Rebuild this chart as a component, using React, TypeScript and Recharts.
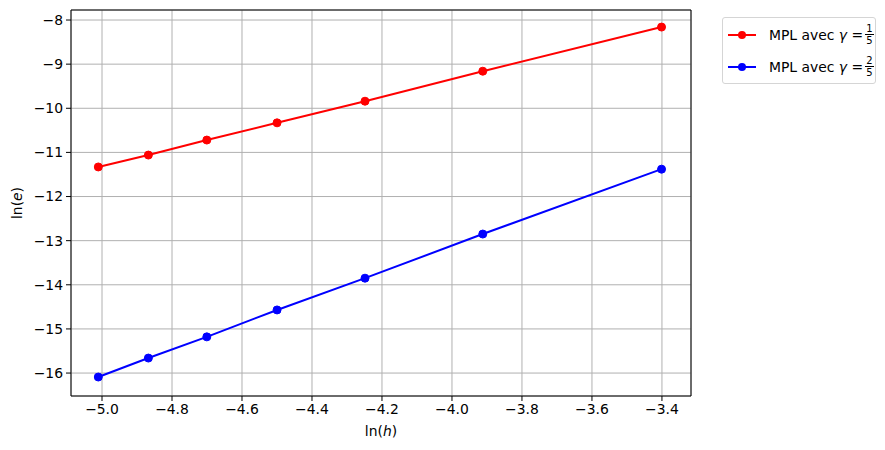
import { CartesianGrid, Line, LineChart, ReferenceLine, XAxis, YAxis } from 'recharts';

// ln(h) for h = 1/150, 1/130, 1/110, 1/90, 1/70, 1/50, 1/30
const lnH = [-5.0106, -4.8675, -4.7005, -4.4998, -4.2485, -3.912, -3.4012];
const errGammaOneFifth = [-11.33, -11.06, -10.72, -10.33, -9.84, -9.16, -8.16];
const errGammaTwoFifths = [-16.09, -15.66, -15.18, -14.57, -13.85, -12.85, -11.38];

const xTicks = [-5.0, -4.8, -4.6, -4.4, -4.2, -4.0, -3.8, -3.6, -3.4];
const yTicks = [-16, -15, -14, -13, -12, -11, -10, -9, -8];
const xDomain: [number, number] = [-5.0886, -3.317];
const yDomain: [number, number] = [-16.52, -7.773];

const seriesNames = ['1', '2'];
const seriesColors = ['#ff0000', '#0000ff'];

const data = lnH.map((x, i) => ({ x, g1: errGammaOneFifth[i], g2: errGammaTwoFifths[i] }));

const FONT = '"DejaVu Sans", sans-serif';
const tickStyle = { fill: '#000', fontSize: 13.9, fontFamily: FONT };

const minus = (s: string) => s.replace('-', '\u2212');

function Fraction({ num }: { num: string }) {
  return (
    <span style={{ display: 'inline-flex', flexDirection: 'column', alignItems: 'center', fontSize: 10, lineHeight: '10px', marginLeft: 2 }}>
      <span>{num}</span>
      <span style={{ borderTop: '1px solid #000', paddingTop: 1, padding: '1px 1px 0' }}>5</span>
    </span>
  );
}

function LegendBox() {
  return (
    <div
      style={{
        position: 'absolute',
        left: 722,
        top: 17,
        width: 154,
        height: 67,
        border: '1px solid #d5d5d5',
        borderRadius: 3,
        background: '#fff',
        fontFamily: FONT,
        fontSize: 13.9,
        boxSizing: 'border-box',
      }}
    >
      {seriesNames.map((num, i) => (
        <div
          key={num}
          style={{ position: 'absolute', left: 4, top: 4 + i * 32, height: 26, display: 'flex', alignItems: 'center', whiteSpace: 'nowrap' }}
        >
          <svg width={30} height={12} style={{ marginRight: 12, flex: 'none' }}>
            <line x1={1} y1={6} x2={29} y2={6} stroke={seriesColors[i]} strokeWidth={2} />
            <circle cx={15} cy={6} r={4} fill={seriesColors[i]} />
          </svg>
          <span style={{ display: 'flex', alignItems: 'center', whiteSpace: 'nowrap' }}>
            MPL avec&nbsp;<i>γ</i>&nbsp;=
            <Fraction num={num} />
          </span>
        </div>
      ))}
    </div>
  );
}

export default function App() {
  return (
    <div style={{ position: 'absolute', left: 0, top: 0, width: 885, height: 450, background: '#fff', fontFamily: FONT }}>
      <LineChart width={885} height={450} data={data} margin={{ top: 10, right: 194, left: 11, bottom: 24 }}>
        <CartesianGrid stroke="#b0b0b0" strokeWidth={1} />
        <XAxis
          dataKey="x"
          type="number"
          domain={xDomain}
          ticks={xTicks}
          allowDataOverflow
          height={30}
          tickSize={5}
          tickMargin={3}
          tick={tickStyle}
          tickFormatter={(v: number) => minus(v.toFixed(1))}
          stroke="#000"
          label={{
            content: (props: any) => {
              const vb = props.viewBox || { x: 71, width: 620 };
              return (
                <text x={vb.x + vb.width / 2} y={436} textAnchor="middle" fontSize={13.9} fontFamily={FONT} fill="#000">
                  ln(<tspan fontStyle="italic">h</tspan>)
                </text>
              );
            },
          }}
        />
        <YAxis
          type="number"
          domain={yDomain}
          ticks={yTicks}
          allowDataOverflow
          width={60}
          tickSize={5}
          tickMargin={3}
          tick={tickStyle}
          tickFormatter={(v: number) => minus(String(v))}
          stroke="#000"
          label={{
            content: (props: any) => {
              const vb = props.viewBox || { y: 10, height: 386 };
              const cy = vb.y + vb.height / 2;
              return (
                <text x={22} y={cy} transform={`rotate(-90 22 ${cy})`} textAnchor="middle" fontSize={13.9} fontFamily={FONT} fill="#000">
                  ln(<tspan fontStyle="italic">e</tspan>)
                </text>
              );
            },
          }}
        />
        <ReferenceLine y={yDomain[1]} stroke="#000" strokeWidth={1} />
        <ReferenceLine x={xDomain[1]} stroke="#000" strokeWidth={1} />
        <Line
          dataKey="g1"
          type="linear"
          stroke={seriesColors[0]}
          strokeWidth={2}
          dot={{ r: 4, fill: seriesColors[0], stroke: seriesColors[0], strokeWidth: 1 }}
          activeDot={false}
          isAnimationActive={false}
        />
        <Line
          dataKey="g2"
          type="linear"
          stroke={seriesColors[1]}
          strokeWidth={2}
          dot={{ r: 4, fill: seriesColors[1], stroke: seriesColors[1], strokeWidth: 1 }}
          activeDot={false}
          isAnimationActive={false}
        />
      </LineChart>
      <LegendBox />
    </div>
  );
}
